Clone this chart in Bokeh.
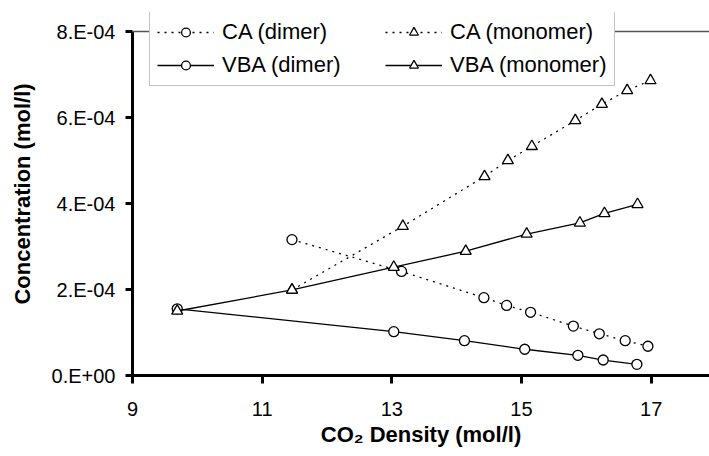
from bokeh.plotting import figure
from bokeh.models import Range1d, FixedTicker, Legend, LegendItem, Span
from bokeh.embed import file_html
from bokeh.resources import INLINE

# ---- data ----
ca_dimer_x = [11.46, 13.15, 14.42, 14.77, 15.14, 15.80, 16.20, 16.60, 16.95]
ca_dimer_y = [3.16e-4, 2.42e-4, 1.81e-4, 1.63e-4, 1.47e-4, 1.15e-4, 0.97e-4, 0.81e-4, 0.68e-4]

ca_mono_x = [11.46, 13.17, 14.43, 14.79, 15.16, 15.83, 16.24, 16.63, 16.99]
ca_mono_y = [1.99e-4, 3.47e-4, 4.63e-4, 5.00e-4, 5.33e-4, 5.93e-4, 6.31e-4, 6.63e-4, 6.86e-4]

vba_dimer_x = [9.69, 13.03, 14.12, 15.05, 15.87, 16.26, 16.78]
vba_dimer_y = [1.55e-4, 1.02e-4, 0.81e-4, 0.61e-4, 0.47e-4, 0.36e-4, 0.26e-4]

vba_mono_x = [9.69, 11.46, 13.03, 14.14, 15.08, 15.90, 16.28, 16.79]
vba_mono_y = [1.50e-4, 1.99e-4, 2.52e-4, 2.89e-4, 3.29e-4, 3.55e-4, 3.77e-4, 3.98e-4]

x_ticks = [9, 11, 13, 15, 17]
y_ticks = [0, 2e-4, 4e-4, 6e-4, 8e-4]
y_tick_labels = ["0.E+00", "2.E-04", "4.E-04", "6.E-04", "8.E-04"]

FONT = "Liberation Sans"

p = figure(width=709, height=456, output_backend="svg", toolbar_location=None,
           x_range=Range1d(9, 17.9), y_range=Range1d(0, 8.442e-4),
           min_border_left=132, min_border_right=0, min_border_top=12, min_border_bottom=81)
p.outline_line_color = None
p.xgrid.visible = False
p.ygrid.visible = False
p.background_fill_color = "white"
p.border_fill_color = "white"

for ax in (p.xaxis[0], p.yaxis[0]):
    ax.axis_line_width = 3
    ax.axis_line_color = "black"
    ax.major_tick_line_width = 3
    ax.major_tick_line_color = "black"
    ax.major_tick_in = 0
    ax.minor_tick_line_color = None
    ax.major_label_text_font = FONT
    ax.major_label_text_font_size = "20px"
    ax.major_label_text_color = "black"
    ax.axis_label_text_font = FONT
    ax.axis_label_text_font_size = "22px"
    ax.axis_label_text_font_style = "bold"
    ax.axis_label_text_color = "black"

p.xaxis.ticker = FixedTicker(ticks=x_ticks)
p.xaxis.major_tick_out = 8
p.xaxis.major_label_standoff = 18
p.xaxis.axis_label = "CO\u2082 Density (mol/l)"
p.xaxis.axis_label_standoff = 3

p.yaxis.ticker = FixedTicker(ticks=y_ticks)
p.yaxis.bounds = (y_ticks[0], y_ticks[-1])
p.yaxis.major_label_overrides = {t: l for t, l in zip(y_ticks, y_tick_labels)}
p.yaxis.major_tick_out = 7
p.yaxis.major_label_standoff = 10
p.yaxis.axis_label = "Concentration (mol/l)"
p.yaxis.axis_label_standoff = 14

# top frame line at the maximum of the y scale
p.add_layout(Span(location=y_ticks[-1], dimension="width", line_color="#555555", line_width=1.5))

LW = 1.3
DOT = "2 5"

l1 = p.line(ca_dimer_x, ca_dimer_y, line_color="black", line_width=LW, line_dash=DOT)
s1 = p.scatter(ca_dimer_x, ca_dimer_y, marker="circle", size=10, fill_color="white",
               line_color="black", line_width=1.3)
l2 = p.line(ca_mono_x, ca_mono_y, line_color="black", line_width=LW, line_dash=DOT)
s2 = p.scatter(ca_mono_x, ca_mono_y, marker="triangle", size=11, fill_color="white",
               line_color="black", line_width=1.3)
l3 = p.line(vba_dimer_x, vba_dimer_y, line_color="black", line_width=LW)
s3 = p.scatter(vba_dimer_x, vba_dimer_y, marker="circle", size=10, fill_color="white",
               line_color="black", line_width=1.3)
l4 = p.line(vba_mono_x, vba_mono_y, line_color="black", line_width=LW)
s4 = p.scatter(vba_mono_x, vba_mono_y, marker="triangle", size=11, fill_color="white",
               line_color="black", line_width=1.3)

legend = Legend(items=[
    LegendItem(label="CA (dimer)", renderers=[l1, s1]),
    LegendItem(label="VBA (dimer)", renderers=[l3, s3]),
    LegendItem(label="CA (monomer)", renderers=[l2, s2]),
    LegendItem(label="VBA (monomer)", renderers=[l4, s4]),
], ncols=2, location=(17, 289))
legend.label_text_font = FONT
legend.label_text_font_size = "22px"
legend.label_text_color = "black"
legend.glyph_width = 57
legend.glyph_height = 22
legend.label_height = 22
legend.label_width = 156
legend.label_standoff = 8
legend.spacing = 7
legend.padding = 7
legend.margin = 0
legend.border_line_color = "#888888"
legend.border_line_width = 1
legend.background_fill_color = "white"
legend.background_fill_alpha = 1.0
p.add_layout(legend, "center")

open("out.html", "w").write(file_html(p, INLINE))
